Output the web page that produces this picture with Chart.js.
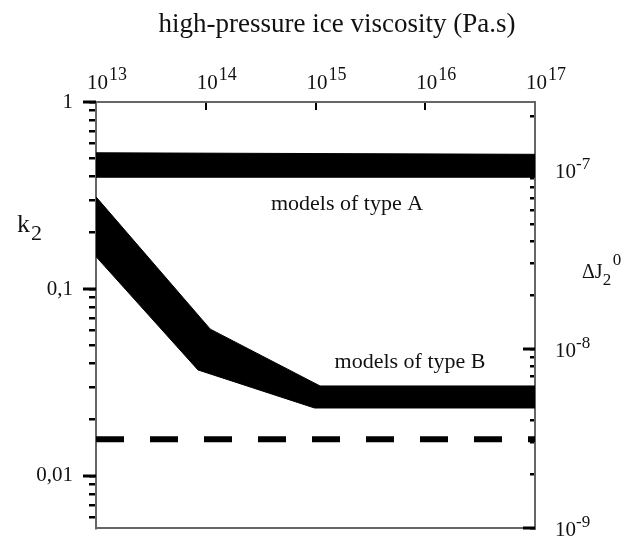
<!DOCTYPE html>
<html>
<head>
<meta charset="utf-8">
<script src="https://cdn.jsdelivr.net/npm/chart.js@4.4.1/dist/chart.umd.min.js"></script>
<style>
html, body { margin: 0; padding: 0; background: #fff; }
#wrap { width: 636px; height: 540px; }
</style>
</head>
<body>
<div id="wrap"><canvas id="chart" width="636" height="540"></canvas></div>
<script>
// x axis : viscosity of high-pressure ice (Pa.s)
const viscosityTicks = [1e13, 1e14, 1e15, 1e16, 1e17];
const viscosityExponents = ['13', '14', '15', '16', '17'];

// models of type A (k2 band)
const viscA = [1e13, 1e17];
const k2A_upper = [0.535, 0.525];
const k2A_lower = [0.396, 0.396];

// models of type B (k2 band)
const viscB_upper = [1e13, 1.1e14, 1.1e15, 1e17];
const k2B_upper = [0.311, 0.061, 0.0303, 0.0303];
const viscB_lower = [1e13, 8.5e13, 9.8e14, 1e17];
const k2B_lower = [0.149, 0.0369, 0.0231, 0.0231];

// dashed level
const viscDash = [1e13, 1e17];
const k2Dash = [0.0157, 0.0157];

// left axis labels (k2)
const k2Major = [1, 0.1, 0.01];
const k2MajorLabels = ['1', '0,1', '0,01'];
// right axis labels (delta J2)
const dJ2Major = [1e-7, 1e-8, 1e-9];
const dJ2Exponents = ['-7', '-8', '-9'];

const FONT = '"Liberation Serif", "DejaVu Serif", serif';

// minor ticks 1..9 x 10^e inside [lo, hi]
function decadeTicks(e0, e1, lo, hi) {
    const t = [];
    for (let e = e0; e <= e1; e++)
        for (let m = 1; m <= 9; m++) {
            const v = +(m * Math.pow(10, e)).toPrecision(3);
            if (v >= lo * 0.999 && v <= hi * 1.001) t.push(v);
        }
    return t;
}
const k2Ticks = decadeTicks(-3, 0, 0.006, 1);
const dJ2Ticks = decadeTicks(-9, -7, 1e-9, 2e-7);

const same = (a, b) => Math.abs(a - b) / b < 1e-6;
const pts = (xs, ys) => xs.map((x, i) => ({x: x, y: ys[i]}));

function band(xs, ys, fill) {
    return {
        data: pts(xs, ys), xAxisID: 'x', yAxisID: 'y',
        borderColor: '#000', borderWidth: 1, pointRadius: 0,
        backgroundColor: '#000', fill: fill
    };
}

// no extra padding from tick labels, fixed box sizes
function fixSize(prop, size) {
    return s => {
        s[prop] = size;
        s.paddingTop = s.paddingBottom = s.paddingLeft = s.paddingRight = 0;
    };
}

// texts with super/subscripts
const textPlugin = {
    id: 'texts',
    afterDraw(chart) {
        const {ctx, chartArea: a, scales} = chart;
        ctx.save();
        ctx.fillStyle = '#111';
        ctx.textBaseline = 'alphabetic';

        // title
        ctx.font = '27px ' + FONT;
        ctx.textAlign = 'center';
        ctx.fillText('high-pressure ice viscosity (Pa.s)', 337, 32);

        // x tick labels 10^n
        ctx.textAlign = 'left';
        viscosityTicks.forEach((v, i) => {
            const px = scales.x.getPixelForValue(v) - 9;
            ctx.font = '21px ' + FONT;
            ctx.fillText('10', px, 89);
            const w = ctx.measureText('10').width;
            ctx.font = '18px ' + FONT;
            ctx.fillText(viscosityExponents[i], px + w + 1, 80);
        });

        // right tick labels
        dJ2Major.forEach((v, i) => {
            const py = scales.y2.getPixelForValue(v);
            ctx.font = '21px ' + FONT;
            ctx.fillText('10', 555, py + 8);
            const w = ctx.measureText('10').width;
            ctx.font = '17px ' + FONT;
            ctx.fillText(dJ2Exponents[i], 555 + w, py - 1);
        });

        // longer major ticks
        ctx.strokeStyle = '#000';
        ctx.lineWidth = 3;
        k2Major.forEach(v => {
            const py = Math.round(scales.y.getPixelForValue(v));
            ctx.beginPath(); ctx.moveTo(a.left - 13, py); ctx.lineTo(a.left, py); ctx.stroke();
        });
        dJ2Major.forEach(v => {
            const py = Math.round(scales.y2.getPixelForValue(v));
            ctx.beginPath(); ctx.moveTo(a.right, py); ctx.lineTo(a.right - 12, py); ctx.stroke();
        });

        // k2 axis title
        ctx.font = '26px ' + FONT;
        ctx.fillText('k', 17, 232);
        let w = ctx.measureText('k').width;
        ctx.font = '22px ' + FONT;
        ctx.fillText('2', 17 + w + 1, 240);

        // delta J2 0 axis title
        ctx.font = '20px ' + FONT;
        ctx.fillText('\u0394J', 582, 278);
        w = ctx.measureText('\u0394J').width;
        ctx.font = '17px ' + FONT;
        ctx.fillText('2', 582 + w, 285);
        ctx.fillText('0', 582 + w + 10, 265);

        // annotations
        ctx.font = '22px ' + FONT;
        ctx.textAlign = 'center';
        ctx.fillText('models of type A', 347, 210);
        ctx.fillText('models of type B', 410, 368);
        ctx.restore();
    }
};

const borderOpt = {color: '#666', width: 2};

new Chart(document.getElementById('chart').getContext('2d'), {
    type: 'line',
    data: {
        datasets: [
            band(viscA, k2A_upper, false),
            band(viscA, k2A_lower, '-1'),
            band(viscB_upper, k2B_upper, false),
            band(viscB_lower, k2B_lower, '-1'),
            {
                data: pts(viscDash, k2Dash), xAxisID: 'x', yAxisID: 'y',
                borderColor: '#000', borderWidth: 6, borderDash: [28, 26],
                borderCapStyle: 'butt', pointRadius: 0, fill: false
            }
        ]
    },
    options: {
        responsive: false,
        animation: false,
        layout: {padding: 0},
        plugins: {legend: {display: false}, tooltip: {enabled: false}},
        scales: {
            x: {
                type: 'logarithmic', position: 'top', min: 1e13, max: 1e17,
                afterBuildTicks: s => { s.ticks = viscosityTicks.map(v => ({value: v})); },
                afterFit: fixSize('height', 102),
                ticks: {display: false},
                grid: {drawOnChartArea: false, drawTicks: true, tickLength: -8, color: '#000', lineWidth: 2},
                border: borderOpt
            },
            xb: {
                type: 'logarithmic', position: 'bottom', min: 1e13, max: 1e17,
                afterFit: fixSize('height', 12),
                ticks: {display: false},
                grid: {display: false},
                border: borderOpt
            },
            y: {
                type: 'logarithmic', position: 'left', min: 0.00527, max: 1,
                afterBuildTicks: s => { s.ticks = k2Ticks.map(v => ({value: v})); },
                afterFit: fixSize('width', 96),
                ticks: {
                    autoSkip: false, padding: 16, color: '#111',
                    font: {family: FONT, size: 21},
                    callback: v => {
                        const i = k2Major.findIndex(m => same(v, m));
                        return i >= 0 ? k2MajorLabels[i] : '';
                    }
                },
                grid: {drawOnChartArea: false, tickLength: 7, color: '#000', lineWidth: 2.5},
                border: borderOpt
            },
            y2: {
                type: 'logarithmic', position: 'right', min: 1e-9, max: 2.4e-7,
                afterBuildTicks: s => { s.ticks = dJ2Ticks.map(v => ({value: v})); },
                afterFit: fixSize('width', 101),
                ticks: {display: false},
                grid: {drawOnChartArea: false, tickLength: -5, color: '#000', lineWidth: 2.5},
                border: borderOpt
            }
        }
    },
    plugins: [textPlugin]
});
</script>
</body>
</html>
